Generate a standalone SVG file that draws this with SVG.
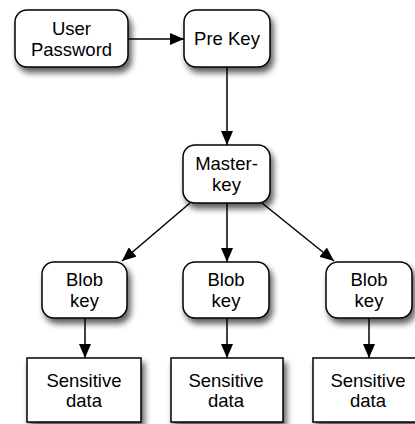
<svg xmlns="http://www.w3.org/2000/svg" width="415" height="424" viewBox="0 0 415 424">
  <defs>
    <filter id="shadow" x="-20%" y="-20%" width="150%" height="160%">
      <feGaussianBlur in="SourceAlpha" stdDeviation="3"/>
      <feOffset dx="3" dy="5" result="blur"/>
      <feComponentTransfer><feFuncA type="linear" slope="0.65"/></feComponentTransfer>
      <feMerge><feMergeNode/><feMergeNode in="SourceGraphic"/></feMerge>
    </filter>
    <marker id="arrow" markerUnits="userSpaceOnUse" markerWidth="15" markerHeight="12" refX="14" refY="6" orient="auto">
      <path d="M0,0 L14,6 L0,12 Z" fill="#000"/>
    </marker>
  </defs>
  <style>
    .box { fill: #fff; stroke: #000; stroke-width: 1.5; filter: url(#shadow); }
    .lbl { font-family: "Liberation Sans", Arial, Helvetica, sans-serif; font-size: 18.5px; fill: #000; text-anchor: middle; }
    .edge { stroke: #000; stroke-width: 1.5; fill: none; marker-end: url(#arrow); }
  </style>
  <rect width="415" height="424" fill="#fff"/>

  <g id="connectors">
    <line class="edge" x1="128" y1="39" x2="184" y2="39"/>
    <line class="edge" x1="227" y1="67" x2="227" y2="145"/>
    <line class="edge" x1="190" y1="203" x2="122" y2="261"/>
    <line class="edge" x1="227" y1="203" x2="227" y2="262"/>
    <line class="edge" x1="262" y1="203" x2="334" y2="261"/>
    <line class="edge" x1="85" y1="318" x2="85" y2="358"/>
    <line class="edge" x1="227" y1="318" x2="227" y2="358"/>
    <line class="edge" x1="369" y1="318" x2="369" y2="358"/>
  </g>

  <g id="user-password">
    <rect class="box" x="15" y="10" width="113" height="57" rx="12"/>
    <text class="lbl" x="71.5" y="35">User</text>
    <text class="lbl" x="71.5" y="56">Password</text>
  </g>
  <g id="pre-key">
    <rect class="box" x="184" y="10" width="86" height="57" rx="12"/>
    <text class="lbl" x="227" y="45">Pre Key</text>
  </g>
  <g id="master-key">
    <rect class="box" x="183" y="145" width="87" height="58" rx="12"/>
    <text class="lbl" x="226.5" y="170">Master-</text>
    <text class="lbl" x="226.5" y="191">key</text>
  </g>

  <g id="blob-key-1">
    <rect class="box" x="42" y="262" width="85" height="56" rx="12"/>
    <text class="lbl" x="84.5" y="286">Blob</text>
    <text class="lbl" x="84.5" y="307">key</text>
  </g>
  <g id="blob-key-2">
    <rect class="box" x="183" y="262" width="86" height="56" rx="12"/>
    <text class="lbl" x="226" y="286">Blob</text>
    <text class="lbl" x="226" y="307">key</text>
  </g>
  <g id="blob-key-3">
    <rect class="box" x="326" y="262" width="86" height="56" rx="12"/>
    <text class="lbl" x="369" y="286">Blob</text>
    <text class="lbl" x="369" y="307">key</text>
  </g>

  <g id="sensitive-data-1">
    <rect class="box" x="27" y="358" width="114" height="64"/>
    <text class="lbl" x="84" y="387">Sensitive</text>
    <text class="lbl" x="84" y="407">data</text>
  </g>
  <g id="sensitive-data-2">
    <rect class="box" x="171" y="358" width="112" height="64"/>
    <text class="lbl" x="226" y="387">Sensitive</text>
    <text class="lbl" x="226" y="407">data</text>
  </g>
  <g id="sensitive-data-3">
    <rect class="box" x="313" y="358" width="113" height="64"/>
    <text class="lbl" x="368" y="387">Sensitive</text>
    <text class="lbl" x="368" y="407">data</text>
  </g>
</svg>
